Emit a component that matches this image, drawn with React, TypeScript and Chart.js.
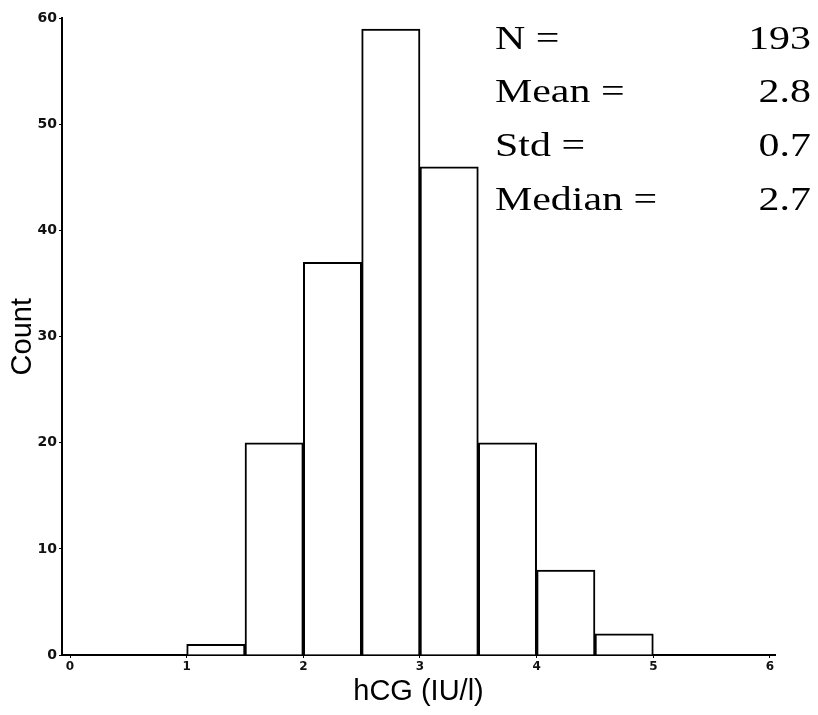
import React, { useEffect, useRef } from "react";
import { Chart, registerables } from "chart.js";

Chart.register(...registerables);

// Histogram bins (lower edges, width 0.5) and counts
const BIN_LOWER = [1.0, 1.5, 2.0, 2.5, 3.0, 3.5, 4.0, 4.5];
const BIN_WIDTH = 0.5;
const COUNTS = [1, 20, 37, 59, 46, 20, 8, 2];

const X_TICKS = [0, 1, 2, 3, 4, 5, 6];
const Y_TICKS = [0, 10, 20, 30, 40, 50, 60];

const STAT_LABELS = ["N =", "Mean =", "Std =", "Median ="];
const STAT_VALUES = ["193", "2.8", "0.7", "2.7"];

const X_TITLE = "hCG (IU/l)";
const Y_TITLE = "Count";

const statsPlugin = {
  id: "statsText",
  afterDraw(chart: any) {
    const ctx = chart.ctx;
    ctx.save();
    ctx.font = '33px "Liberation Serif"';
    ctx.fillStyle = "#000";
    ctx.textBaseline = "alphabetic";
    const baselines = [41, 94, 148, 202];
    const sx = 1.27;
    STAT_LABELS.forEach((label, i) => {
      ctx.save();
      ctx.translate(487, baselines[i]);
      ctx.scale(sx, 1);
      ctx.textAlign = "left";
      ctx.fillText(label, 0, 0);
      ctx.restore();
      ctx.save();
      ctx.translate(803, baselines[i]);
      ctx.scale(sx, 1);
      ctx.textAlign = "right";
      ctx.fillText(STAT_VALUES[i], 0, 0);
      ctx.restore();
    });
    ctx.restore();
  },
};

export default function App() {
  const canvasRef = useRef<HTMLCanvasElement | null>(null);

  useEffect(() => {
    if (!canvasRef.current) return;
    const data = BIN_LOWER.map((lo, i) => ({ x: lo + BIN_WIDTH / 2, y: COUNTS[i] }));
    const chart = new Chart(canvasRef.current, {
      type: "bar",
      data: {
        datasets: [
          {
            data: data as any,
            backgroundColor: "#ffffff",
            borderColor: "#000000",
            borderWidth: 2,
            barPercentage: 1,
            categoryPercentage: 1,
            grouped: false,
          } as any,
        ],
      },
      options: {
        animation: false,
        responsive: false,
        maintainAspectRatio: false,
        layout: { padding: { left: 0, right: 43, top: 7, bottom: 0 } },
        plugins: { legend: { display: false }, tooltip: { enabled: false } },
        scales: {
          x: {
            type: "linear",
            min: -0.0686,
            max: 6.043,
            offset: false,
            afterBuildTicks: (scale: any) => {
              scale.ticks = X_TICKS.map((v) => ({ value: v }));
            },
            afterFit: (scale: any) => {
              scale.height = 52;
            },
            border: { display: true, color: "#000", width: 2 },
            grid: { display: true, offset: false, drawOnChartArea: false, drawTicks: true, tickLength: 3, color: "#000", lineWidth: 1 },
            ticks: {
              autoSkip: false,
              maxRotation: 0,
              padding: 2,
              color: "#111",
              font: { family: "DejaVu Sans", size: 12, weight: "bold" },
              callback: (v: any) => String(v),
            },
            title: {
              display: true,
              text: X_TITLE,
              color: "#000",
              font: { family: "Liberation Sans", size: 29, lineHeight: 1 },
              padding: { top: 0, bottom: 1 },
            },
          },
          y: {
            type: "linear",
            min: 0,
            max: 60,
            afterBuildTicks: (scale: any) => {
              scale.ticks = Y_TICKS.map((v) => ({ value: v }));
            },
            afterFit: (scale: any) => {
              scale.width = 54;
            },
            border: { display: true, color: "#000", width: 2 },
            grid: { display: true, drawOnChartArea: false, drawTicks: true, tickLength: 3, color: "#000", lineWidth: 1 },
            ticks: {
              padding: 2,
              color: "#111",
              font: { family: "DejaVu Sans", size: 14, weight: "bold" },
              callback: (v: any) => String(v),
            },
            title: {
              display: true,
              text: Y_TITLE,
              color: "#000",
              font: { family: "Liberation Sans", size: 29, lineHeight: 1 },
              padding: { top: 0, bottom: 0 },
            },
          },
        },
      },
      plugins: [statsPlugin],
    });
    return () => chart.destroy();
  }, []);

  return (
    <div style={{ width: 810, height: 699 }}>
      <canvas ref={canvasRef} width={810} height={699} style={{ width: 810, height: 699, display: "block" }} />
    </div>
  );
}
